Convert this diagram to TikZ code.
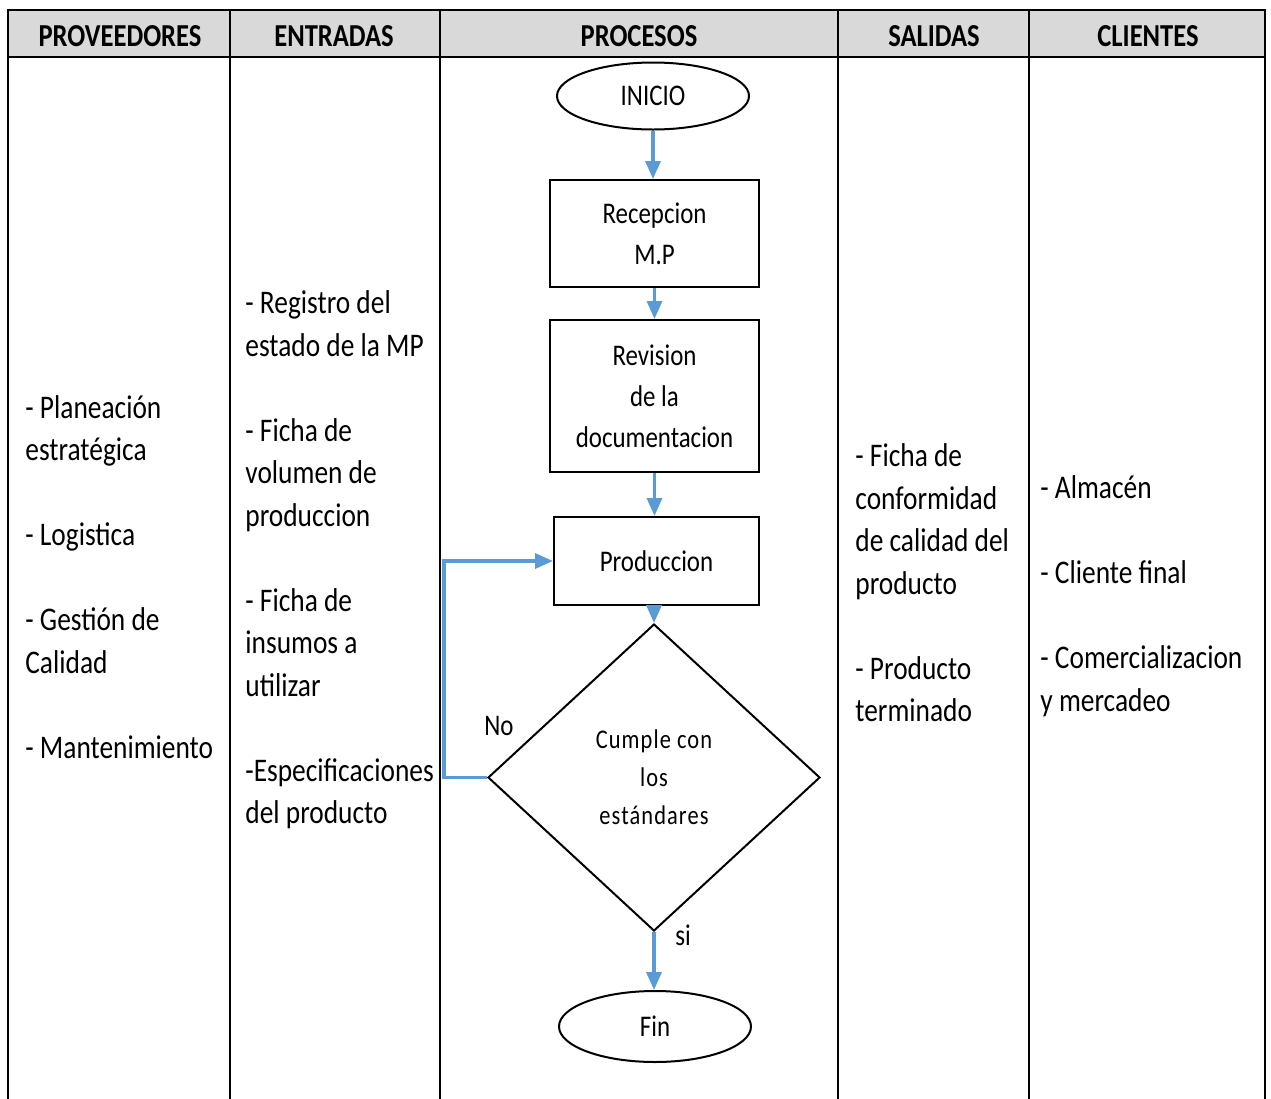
\documentclass[tikz,border=0pt]{standalone}
\usepackage{fontspec}
\setmainfont{Carlito}[FakeStretch=0.83]
\newfontfamily\spacedfont{Carlito}[FakeStretch=0.83,LetterSpace=4]
\usetikzlibrary{shapes.geometric,arrows.meta}
\definecolor{flowblue}{HTML}{5B9BD5}
\definecolor{headgray}{HTML}{D9D9D9}

\begin{document}
\begin{tikzpicture}[x=0.5pt,y=-0.5pt,
  grid/.style={line width=1.1pt},
  stepbox/.style={draw, line width=1pt, rectangle, inner sep=0pt, align=center,
    font=\fontsize{15}{20.5}\selectfont},
  term/.style={draw, line width=1pt, ellipse, inner sep=0pt,
    font=\fontsize{15}{20.5}\selectfont},
  decide/.style={draw, line width=1pt, diamond, inner sep=0pt, align=center,
    font=\spacedfont\fontsize{13.5}{19}\selectfont},
  flow/.style={draw=flowblue, line width=1.7pt, -{Triangle[length=9pt,width=7.5pt]}},
  head/.style={inner sep=0pt, font=\bfseries\fontsize{16}{19}\selectfont},
  colist/.style={anchor=west, align=left, inner sep=0pt,
    font=\fontsize{16.5}{21.25}\selectfont},
  tag/.style={inner sep=0pt, font=\fontsize{15}{18}\selectfont}
]
\useasboundingbox (0,0) rectangle (1271,1099);

% table frame and header band
\fill[headgray] (8,10) rectangle (1265,57);
\draw[grid] (8,1099) -- (8,10) -- (1265,10) -- (1265,1099);
\draw[grid] (8,57) -- (1265,57);
\foreach \xc in {230,440,838,1029} \draw[grid] (\xc,10) -- (\xc,1099);

% column headings
\node[head] (hprov) at (120,36) {PROVEEDORES};
\node[head] (hent)  at (334,36) {ENTRADAS};
\node[head] (hproc) at (639,36) {PROCESOS};
\node[head] (hsal)  at (934,36) {SALIDAS};
\node[head] (hcli)  at (1148,36) {CLIENTES};

% column contents
\node[colist] (prov) at (25,577) {- Planeación\\estratégica\\[21.25pt]- Logistica\\[21.25pt]- Gestión de\\Calidad\\[21.25pt]- Mantenimiento};
\node[colist] (ent) at (245,560) {- Registro del\\estado de la MP\\[21.25pt]- Ficha de\\volumen de\\produccion\\[21.25pt]- Ficha de\\insumos a\\utilizar\\[21.25pt]-Especificaciones\\del producto};
\node[colist] (sal) at (855,583) {- Ficha de\\conformidad\\de calidad del\\producto\\[21.25pt]- Producto\\terminado};
\node[colist] (cli) at (1040,596) {- Almacén\\[21.25pt]- Cliente final\\[21.25pt]- Comercializacion\\y mercadeo};

% process flow
\node[term, minimum width=96pt, minimum height=33.5pt] (ini) at (653,96) {INICIO};
\node[stepbox, minimum width=104.5pt, minimum height=53.5pt] (rec) at (654.5,233.5) {Recepcion\\M.P};
\node[stepbox, minimum width=104.5pt, minimum height=76pt] (rev) at (654.5,396) {Revision\\de la\\documentacion};
\node[stepbox, minimum width=102.5pt, minimum height=44pt] (prod) at (656.5,561) {Produccion};
\node[decide, minimum width=166pt, minimum height=153.5pt] (chk) at (654,777.5) {Cumple con\\los\\estándares};
\node[term, minimum width=96pt, minimum height=35.5pt] (fin) at (655,1026.5) {Fin};

\coordinate (bend) at (444,700);

\draw[flow] (ini.south) -- (ini.south |- rec.north);
\draw[flow] (rec.south) -- (rec.south |- rev.north);
\draw[flow] (rev.south) -- (rev.south |- prod.north);
\draw[flow] (prod.south -| chk.north) -- (chk.north);
\draw[flow] (chk.south) -- (chk.south |- fin.north);
\draw[flow] (chk.west) -| (bend) |- (prod.west);

\node[tag] (no) at (499,726) {No};
\node[tag] (si) at (683,935) {si};
\end{tikzpicture}
\end{document}
